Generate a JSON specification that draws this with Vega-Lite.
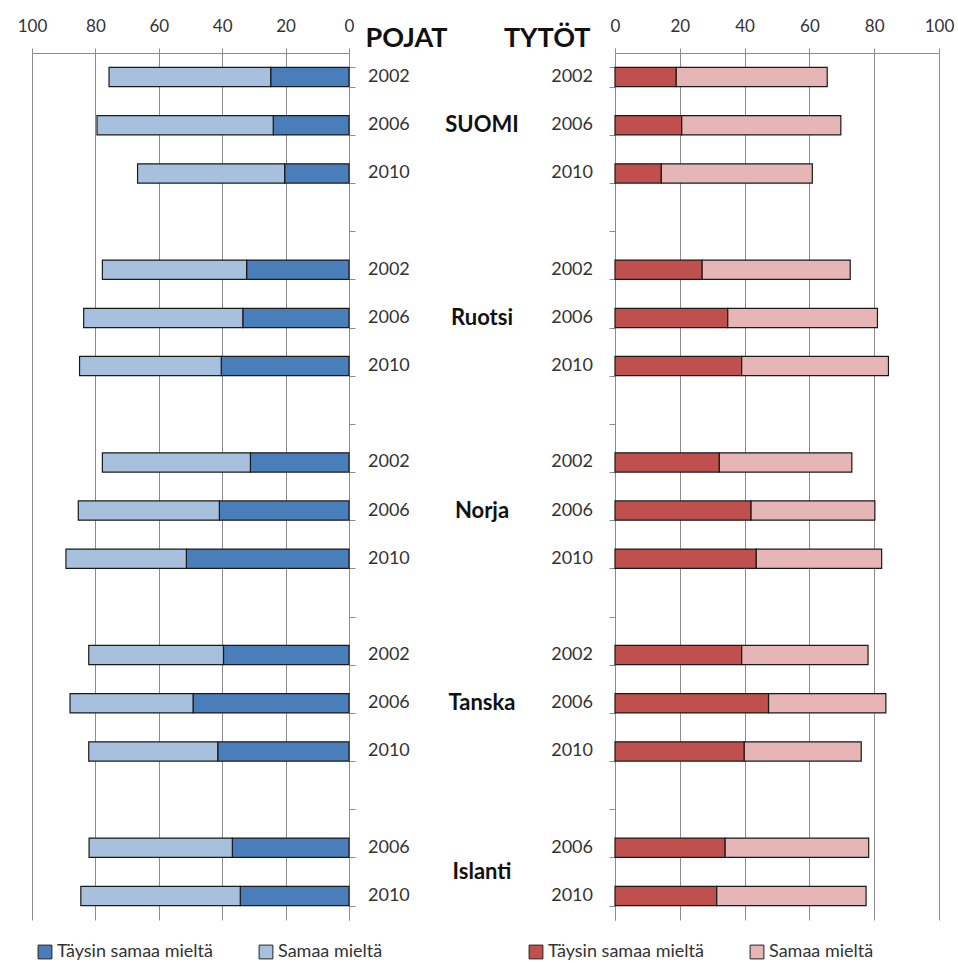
{
  "$schema": "https://vega.github.io/schema/vega-lite/v6.json",
  "padding": {"left": 17, "top": 17, "right": 5, "bottom": 2},
  "background": "white",
  "config": {"view": {"stroke": null}, "font": "Lato"},
  "datasets": {
    "boys": [
      {"row": "SUOMI 2002", "year": "2002", "cat": "Täysin samaa mieltä", "ord": 1, "value": 24.7},
      {"row": "SUOMI 2002", "year": "2002", "cat": "Samaa mieltä", "ord": 2, "value": 51.0},
      {"row": "SUOMI 2006", "year": "2006", "cat": "Täysin samaa mieltä", "ord": 1, "value": 23.9},
      {"row": "SUOMI 2006", "year": "2006", "cat": "Samaa mieltä", "ord": 2, "value": 55.6},
      {"row": "SUOMI 2010", "year": "2010", "cat": "Täysin samaa mieltä", "ord": 1, "value": 20.3},
      {"row": "SUOMI 2010", "year": "2010", "cat": "Samaa mieltä", "ord": 2, "value": 46.4},
      {"row": "Ruotsi 2002", "year": "2002", "cat": "Täysin samaa mieltä", "ord": 1, "value": 32.3},
      {"row": "Ruotsi 2002", "year": "2002", "cat": "Samaa mieltä", "ord": 2, "value": 45.5},
      {"row": "Ruotsi 2006", "year": "2006", "cat": "Täysin samaa mieltä", "ord": 1, "value": 33.5},
      {"row": "Ruotsi 2006", "year": "2006", "cat": "Samaa mieltä", "ord": 2, "value": 50.2},
      {"row": "Ruotsi 2010", "year": "2010", "cat": "Täysin samaa mieltä", "ord": 1, "value": 40.3},
      {"row": "Ruotsi 2010", "year": "2010", "cat": "Samaa mieltä", "ord": 2, "value": 44.7},
      {"row": "Norja 2002", "year": "2002", "cat": "Täysin samaa mieltä", "ord": 1, "value": 31.1},
      {"row": "Norja 2002", "year": "2002", "cat": "Samaa mieltä", "ord": 2, "value": 46.7},
      {"row": "Norja 2006", "year": "2006", "cat": "Täysin samaa mieltä", "ord": 1, "value": 40.9},
      {"row": "Norja 2006", "year": "2006", "cat": "Samaa mieltä", "ord": 2, "value": 44.5},
      {"row": "Norja 2010", "year": "2010", "cat": "Täysin samaa mieltä", "ord": 1, "value": 51.3},
      {"row": "Norja 2010", "year": "2010", "cat": "Samaa mieltä", "ord": 2, "value": 38.0},
      {"row": "Tanska 2002", "year": "2002", "cat": "Täysin samaa mieltä", "ord": 1, "value": 39.6},
      {"row": "Tanska 2002", "year": "2002", "cat": "Samaa mieltä", "ord": 2, "value": 42.5},
      {"row": "Tanska 2006", "year": "2006", "cat": "Täysin samaa mieltä", "ord": 1, "value": 49.2},
      {"row": "Tanska 2006", "year": "2006", "cat": "Samaa mieltä", "ord": 2, "value": 38.8},
      {"row": "Tanska 2010", "year": "2010", "cat": "Täysin samaa mieltä", "ord": 1, "value": 41.4},
      {"row": "Tanska 2010", "year": "2010", "cat": "Samaa mieltä", "ord": 2, "value": 40.7},
      {"row": "Islanti 2006", "year": "2006", "cat": "Täysin samaa mieltä", "ord": 1, "value": 36.8},
      {"row": "Islanti 2006", "year": "2006", "cat": "Samaa mieltä", "ord": 2, "value": 45.2},
      {"row": "Islanti 2010", "year": "2010", "cat": "Täysin samaa mieltä", "ord": 1, "value": 34.3},
      {"row": "Islanti 2010", "year": "2010", "cat": "Samaa mieltä", "ord": 2, "value": 50.3}
    ],
    "girls": [
      {"row": "SUOMI 2002", "year": "2002", "cat": "Täysin samaa mieltä", "ord": 1, "value": 18.9},
      {"row": "SUOMI 2002", "year": "2002", "cat": "Samaa mieltä", "ord": 2, "value": 46.6},
      {"row": "SUOMI 2006", "year": "2006", "cat": "Täysin samaa mieltä", "ord": 1, "value": 20.6},
      {"row": "SUOMI 2006", "year": "2006", "cat": "Samaa mieltä", "ord": 2, "value": 49.1},
      {"row": "SUOMI 2010", "year": "2010", "cat": "Täysin samaa mieltä", "ord": 1, "value": 14.3},
      {"row": "SUOMI 2010", "year": "2010", "cat": "Samaa mieltä", "ord": 2, "value": 46.6},
      {"row": "Ruotsi 2002", "year": "2002", "cat": "Täysin samaa mieltä", "ord": 1, "value": 26.9},
      {"row": "Ruotsi 2002", "year": "2002", "cat": "Samaa mieltä", "ord": 2, "value": 45.7},
      {"row": "Ruotsi 2006", "year": "2006", "cat": "Täysin samaa mieltä", "ord": 1, "value": 34.8},
      {"row": "Ruotsi 2006", "year": "2006", "cat": "Samaa mieltä", "ord": 2, "value": 46.2},
      {"row": "Ruotsi 2010", "year": "2010", "cat": "Täysin samaa mieltä", "ord": 1, "value": 39.1},
      {"row": "Ruotsi 2010", "year": "2010", "cat": "Samaa mieltä", "ord": 2, "value": 45.3},
      {"row": "Norja 2002", "year": "2002", "cat": "Täysin samaa mieltä", "ord": 1, "value": 32.2},
      {"row": "Norja 2002", "year": "2002", "cat": "Samaa mieltä", "ord": 2, "value": 40.9},
      {"row": "Norja 2006", "year": "2006", "cat": "Täysin samaa mieltä", "ord": 1, "value": 42.0},
      {"row": "Norja 2006", "year": "2006", "cat": "Samaa mieltä", "ord": 2, "value": 38.2},
      {"row": "Norja 2010", "year": "2010", "cat": "Täysin samaa mieltä", "ord": 1, "value": 43.6},
      {"row": "Norja 2010", "year": "2010", "cat": "Samaa mieltä", "ord": 2, "value": 38.7},
      {"row": "Tanska 2002", "year": "2002", "cat": "Täysin samaa mieltä", "ord": 1, "value": 39.1},
      {"row": "Tanska 2002", "year": "2002", "cat": "Samaa mieltä", "ord": 2, "value": 39.0},
      {"row": "Tanska 2006", "year": "2006", "cat": "Täysin samaa mieltä", "ord": 1, "value": 47.4},
      {"row": "Tanska 2006", "year": "2006", "cat": "Samaa mieltä", "ord": 2, "value": 36.2},
      {"row": "Tanska 2010", "year": "2010", "cat": "Täysin samaa mieltä", "ord": 1, "value": 39.9},
      {"row": "Tanska 2010", "year": "2010", "cat": "Samaa mieltä", "ord": 2, "value": 36.1},
      {"row": "Islanti 2006", "year": "2006", "cat": "Täysin samaa mieltä", "ord": 1, "value": 34.0},
      {"row": "Islanti 2006", "year": "2006", "cat": "Samaa mieltä", "ord": 2, "value": 44.3},
      {"row": "Islanti 2010", "year": "2010", "cat": "Täysin samaa mieltä", "ord": 1, "value": 31.4},
      {"row": "Islanti 2010", "year": "2010", "cat": "Samaa mieltä", "ord": 2, "value": 46.1}
    ],
    "countries": [
      {"country": "SUOMI", "row_index": 1.5},
      {"country": "Ruotsi", "row_index": 5.5},
      {"country": "Norja", "row_index": 9.5},
      {"country": "Tanska", "row_index": 13.5},
      {"country": "Islanti", "row_index": 17}
    ]
  },
  "spacing": 0,
  "bounds": "flush",
  "resolve": {"scale": {"color": "independent"}},
  "hconcat": [
    {
      "width": 317,
      "height": 867,
      "data": {"name": "boys"},
      "encoding": {
        "y": {
          "field": "row", "type": "nominal",
          "scale": {"domain": ["SUOMI 2002","SUOMI 2006","SUOMI 2010","gap1","Ruotsi 2002","Ruotsi 2006","Ruotsi 2010","gap2","Norja 2002","Norja 2006","Norja 2010","gap3","Tanska 2002","Tanska 2006","Tanska 2010","gap4","Islanti 2006","Islanti 2010"], "paddingInner": 0.6, "paddingOuter": 0.3},
          "axis": {"orient": "right", "title": null, "labels": false, "tickBand": "extent", "tickSize": 6, "tickColor": "#8c8c8c", "domainColor": "#8c8c8c", "grid": false}
        }
      },
      "layer": [
        {
          "mark": {"type": "bar", "stroke": "#1a1a1a", "strokeWidth": 1.2},
          "encoding": {
            "x": {
              "field": "value", "type": "quantitative", "stack": "zero",
              "scale": {"domain": [0, 100], "reverse": true, "nice": false},
              "axis": {"orient": "top", "values": [0,20,40,60,80,100], "grid": true, "gridColor": "#8c8c8c", "domainColor": "#8c8c8c", "tickColor": "#8c8c8c", "tickSize": 5, "labelFontSize": 17, "labelColor": "#333333", "labelPadding": 13, "labelFlush": false, "title": "POJAT", "titleX": 333, "titleY": -7, "titleAlign": "left", "titleBaseline": "alphabetic", "titleFontSize": 27, "titleFontWeight": "bold", "titleColor": "#111111"}
            },
            "color": {
              "field": "cat", "type": "nominal",
              "scale": {"domain": ["Täysin samaa mieltä", "Samaa mieltä"], "range": ["#4a7ebb", "#a7c0de"]},
              "legend": {"orient": "none", "legendX": 4, "legendY": 890, "direction": "horizontal", "title": null, "symbolType": "square", "symbolSize": 190, "symbolStrokeColor": "#222222", "symbolStrokeWidth": 1, "labelFontSize": 18, "labelLimit": 400, "labelColor": "#333333", "labelOffset": 3, "columnPadding": 44}
            },
            "order": {"field": "ord", "type": "quantitative"}
          }
        },
        {
          "transform": [{"filter": "datum.ord == 1"}],
          "mark": {"type": "text", "align": "left", "baseline": "middle", "dx": 19, "fontSize": 18, "color": "#333333"},
          "encoding": {
            "x": {"datum": 0, "type": "quantitative"},
            "text": {"field": "year"}
          }
        }
      ]
    },
    {
      "width": 266,
      "height": 867,
      "data": {"name": "countries"},
      "mark": {"type": "text", "fontSize": 22, "fontWeight": "bold", "color": "#111111", "baseline": "middle"},
      "encoding": {
        "y": {"field": "row_index", "type": "quantitative", "scale": {"domain": [0, 18], "reverse": true, "nice": false, "zero": false}, "axis": null},
        "text": {"field": "country"}
      }
    },
    {
      "width": 324,
      "height": 867,
      "data": {"name": "girls"},
      "encoding": {
        "y": {
          "field": "row", "type": "nominal",
          "scale": {"domain": ["SUOMI 2002","SUOMI 2006","SUOMI 2010","gap1","Ruotsi 2002","Ruotsi 2006","Ruotsi 2010","gap2","Norja 2002","Norja 2006","Norja 2010","gap3","Tanska 2002","Tanska 2006","Tanska 2010","gap4","Islanti 2006","Islanti 2010"], "paddingInner": 0.6, "paddingOuter": 0.3},
          "axis": {"orient": "left", "title": null, "labels": false, "tickBand": "extent", "tickSize": 6, "tickColor": "#8c8c8c", "domainColor": "#8c8c8c", "grid": false}
        }
      },
      "layer": [
        {
          "mark": {"type": "bar", "stroke": "#1a1a1a", "strokeWidth": 1.2},
          "encoding": {
            "x": {
              "field": "value", "type": "quantitative", "stack": "zero",
              "scale": {"domain": [0, 100], "nice": false},
              "axis": {"orient": "top", "values": [0,20,40,60,80,100], "grid": true, "gridColor": "#8c8c8c", "domainColor": "#8c8c8c", "tickColor": "#8c8c8c", "tickSize": 5, "labelFontSize": 17, "labelColor": "#333333", "labelPadding": 13, "labelFlush": false, "title": "TYTÖT", "titleX": -25, "titleY": -7, "titleAlign": "right", "titleBaseline": "alphabetic", "titleFontSize": 27, "titleFontWeight": "bold", "titleColor": "#111111"}
            },
            "color": {
              "field": "cat", "type": "nominal",
              "scale": {"domain": ["Täysin samaa mieltä", "Samaa mieltä"], "range": ["#c0504d", "#e6b5b5"]},
              "legend": {"orient": "none", "legendX": -88, "legendY": 890, "direction": "horizontal", "title": null, "symbolType": "square", "symbolSize": 190, "symbolStrokeColor": "#222222", "symbolStrokeWidth": 1, "labelFontSize": 18, "labelLimit": 400, "labelColor": "#333333", "labelOffset": 3, "columnPadding": 44}
            },
            "order": {"field": "ord", "type": "quantitative"}
          }
        },
        {
          "transform": [{"filter": "datum.ord == 1"}],
          "mark": {"type": "text", "align": "right", "baseline": "middle", "dx": -22, "fontSize": 18, "color": "#333333"},
          "encoding": {
            "x": {"datum": 0, "type": "quantitative"},
            "text": {"field": "year"}
          }
        }
      ]
    }
  ]
}
